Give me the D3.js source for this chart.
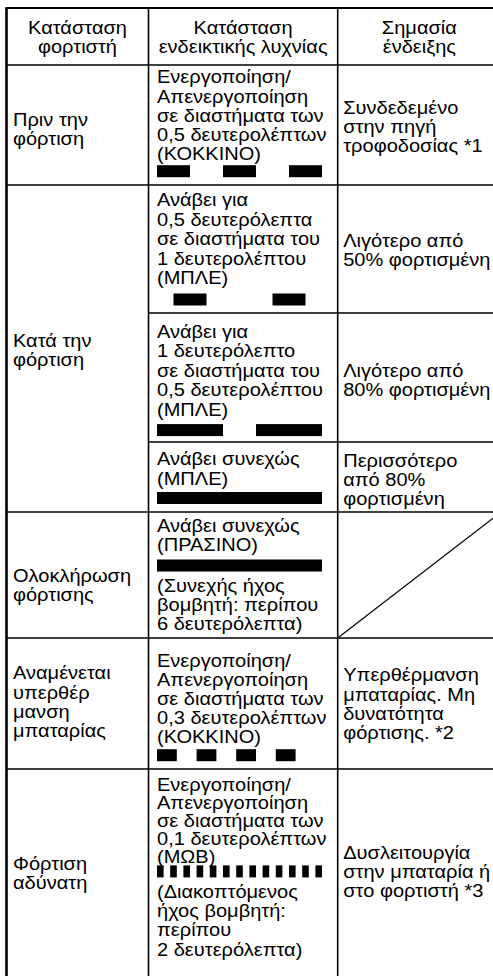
<!DOCTYPE html>
<html><head><meta charset="utf-8">
<script src="https://cdn.jsdelivr.net/npm/d3@7"></script>
<style>html,body{margin:0;padding:0;background:#fff;overflow:hidden}svg{display:block}</style>
</head><body>
<svg id="c" width="493" height="976"></svg>
<script>
// ---------- data ----------
const headerLabels = [["Κατάσταση","φορτιστή"],["Κατάσταση","ενδεικτικής λυχνίας"],["Σημασία","ένδειξης"]];
const chargerStates = [["Πριν την","φόρτιση"],["Κατά την","φόρτιση"],["Ολοκλήρωση","φόρτισης"],["Αναμένεται","υπερθέρ","μανση","μπαταρίας"],["Φόρτιση","αδύνατη"]];
const stateRowSpan = [1,3,1,1,1];
const lampText = [
  ["Ενεργοποίηση/","Απενεργοποίηση","σε διαστήματα των","0,5 δευτερολέπτων","(ΚΟΚΚΙΝΟ)"],
  ["Ανάβει για","0,5 δευτερόλεπτα","σε διαστήματα του","1 δευτερολέπτου","(ΜΠΛΕ)"],
  ["Ανάβει για","1 δευτερόλεπτο","σε διαστήματα του","0,5 δευτερολέπτου","(ΜΠΛΕ)"],
  ["Ανάβει συνεχώς","(ΜΠΛΕ)"],
  ["Ανάβει συνεχώς","(ΠΡΑΣΙΝΟ)"],
  ["Ενεργοποίηση/","Απενεργοποίηση","σε διαστήματα των","0,3 δευτερολέπτων","(ΚΟΚΚΙΝΟ)"],
  ["Ενεργοποίηση/","Απενεργοποίηση","σε διαστήματα των","0,1 δευτερολέπτων","(ΜΩΒ)"]
];
const buzzerNote = [[],[],[],[],["(Συνεχής ήχος","βομβητή: περίπου","6 δευτερόλεπτα)"],[],["(Διακοπτόμενος","ήχος βομβητή:","περίπου","2 δευτερόλεπτα)"]];
const onSeconds    = [0.5, 0.5, 1.0, 2.5, 2.5, 0.3, 0.1];
const offSeconds   = [0.5, 1.0, 0.5, 0,   0,   0.3, 0.1];
const startSeconds = [0,   0.25,0,   0,   0,   0,   0  ];
const pulseCount   = [3,   2,   2,   1,   1,   4,   13 ];
const meaningText = [["Συνδεδεμένο","στην πηγή","τροφοδοσίας *1"],["Λιγότερο από","50% φορτισμένη"],["Λιγότερο από","80% φορτισμένη"],["Περισσότερο","από 80%","φορτισμένη"],null,["Υπερθέρμανση","μπαταρίας. Μη","δυνατότητα","φόρτισης. *2"],["Δυσλειτουργία","στην μπαταρία ή","στο φορτιστή *3"]];

// ---------- layout ----------
const colX = [6.5, 148.5, 337.7, 501];
const tableTop = 8, headerH = 57;
const rowH = [120, 128, 129, 70, 126, 131, 216];
const lampPad = [5, 8, 11.5, 9.7, 6.4, 15.3, 9];
const lampLH  = [19.2, 19.4, 19.4, 19.4, 19.4, 19.0, 18.0];
const barGap  = [5, 9.5, 8.6, 7.5, 8.3, 6.5, 2];
const barH    = [12, 12, 12, 12, 12, 12, 12];
const stateShift = [4, 1, 10, -2, -4];
const meaningShift = [1, 1, 2, 2, 0, 0, -6];
const FS = 19, LH = 19.2, CAP = 13.4, NOTE_GAP = 20.5;
const textPadX = [6.5, 8.5, 5.5];
const FONT = "'Liberation Sans', Arial, Helvetica, sans-serif";

const svg = d3.select("#c");
svg.append("rect").attr("width",493).attr("height",976).attr("fill","#fff");

const probe = svg.append("text").attr("font-family",FONT).attr("font-size",FS).text("ενδεικτικής λυχνίας");
const SX = 169 / probe.node().getComputedTextLength();
probe.remove();

const rowTops = [tableTop + headerH];
rowH.forEach((h,i)=>rowTops.push(rowTops[i]+h));
const tableBottom = rowTops[rowTops.length-1];

const t = d3.scaleLinear().domain([0, 2.5]).range([colX[1]+textPadX[1], 322]);

function addLines(g, lines, x, firstBaseline, anchor, lh){
  lines.forEach((s,i)=>{
    g.append("text")
      .attr("transform",`translate(${x},${firstBaseline + i*(lh||LH)}) scale(${SX},1)`)
      .attr("text-anchor",anchor||"start")
      .attr("font-family",FONT).attr("font-size",FS).attr("fill","#000")
      .text(s);
  });
}
function centeredBaseline(top, bottom, n, shift){
  const c = (top+bottom)/2 + shift;
  return c - ((n-1)*LH - CAP)/2;
}

const g = svg.append("g");

headerLabels.forEach((lines,i)=>{
  const cx = (colX[i]+colX[i+1])/2;
  addLines(g, lines, cx, centeredBaseline(tableTop, tableTop+headerH, lines.length, 0.5), "middle");
});

let r = 0;
chargerStates.forEach((lines,i)=>{
  const top = rowTops[r], bottom = rowTops[r+stateRowSpan[i]];
  addLines(g, lines, colX[0]+textPadX[0], centeredBaseline(top, bottom, lines.length, stateShift[i]));
  r += stateRowSpan[i];
});

lampText.forEach((lines,i)=>{
  const top = rowTops[i];
  const b0 = top + lampPad[i] + CAP;
  addLines(g, lines, colX[1]+textPadX[1], b0, "start", lampLH[i]);
  const barY = b0 + (lines.length-1)*lampLH[i] + barGap[i];
  const pulses = d3.range(pulseCount[i]).map(k=>startSeconds[i] + k*(onSeconds[i]+offSeconds[i]));
  g.selectAll(null).data(pulses).enter().append("rect")
    .attr("x", d=>t(d)).attr("y", barY)
    .attr("width", d=>t(d+onSeconds[i]) - t(d)).attr("height", barH[i])
    .attr("fill","#000");
  if (buzzerNote[i].length){
    addLines(g, buzzerNote[i], colX[1]+textPadX[1], barY + barH[i] + NOTE_GAP);
  }
});

meaningText.forEach((lines,i)=>{
  if(!lines) return;
  addLines(g, lines, colX[2]+textPadX[2], centeredBaseline(rowTops[i], rowTops[i+1], lines.length, meaningShift[i]));
});

const lw = 1.6;
const line = (x1,y1,x2,y2,w)=>g.append("line").attr("x1",x1).attr("y1",y1).attr("x2",x2).attr("y2",y2)
  .attr("stroke","#000").attr("stroke-width",w||lw);
line(colX[0]-1, tableTop, colX[3], tableTop, 1.8);
line(colX[0], tableTop, colX[0], tableBottom, 2.6);
line(colX[1], tableTop, colX[1], tableBottom);
line(colX[2], tableTop, colX[2], tableBottom);
line(colX[3], tableTop, colX[3], tableBottom);
line(colX[0], rowTops[0], colX[3], rowTops[0]);
let acc = 0; const stateBounds = new Set();
stateRowSpan.forEach(s=>{acc+=s; stateBounds.add(acc);});
rowTops.slice(1).forEach((y,k)=>{
  const x0 = stateBounds.has(k+1) ? colX[0] : colX[1];
  line(x0, y, colX[3], y);
});
meaningText.forEach((m,i)=>{ if(!m) line(colX[2], rowTops[i+1], colX[3], rowTops[i], 1.2); });
</script>
</body></html>
